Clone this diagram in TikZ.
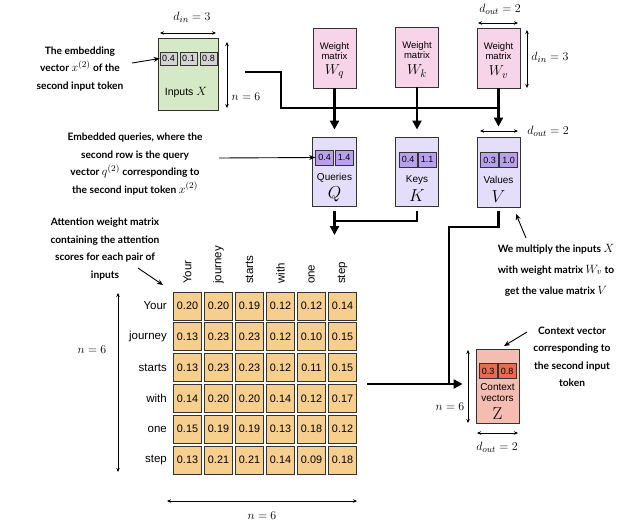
\documentclass[tikz,border=0pt]{standalone}
\usepackage[no-math]{fontspec}
\usetikzlibrary{arrows.meta}
\newfontfamily\lab{Liberation Sans}
\newfontfamily\ann{Lato}
\newcommand\amath[1]{{\fontsize{12.5}{12}\selectfont$#1$}}
\definecolor{inpfill}{HTML}{D6E9C6}
\definecolor{cellgray}{HTML}{D3D3D3}
\definecolor{wfill}{HTML}{F7D4E7}
\definecolor{qfill}{HTML}{E5DEFA}
\definecolor{qcell}{HTML}{B9A0EC}
\definecolor{ctxfill}{HTML}{F5BCB1}
\definecolor{ctxcell}{HTML}{E86A52}
\definecolor{attfill}{HTML}{F6CE8E}
\definecolor{edge}{HTML}{333333}
\begin{document}
\begin{tikzpicture}[x=1pt,y=-1pt,
  bigbox/.style={draw=edge, line width=0.9pt, inner sep=0pt},
  smallcell/.style={draw=edge, line width=0.7pt, inner sep=0pt, minimum width=18pt, minimum height=15pt, font=\lab\fontsize{9}{9}\selectfont},
  attcell/.style={draw=edge, line width=0.8pt, fill=attfill, inner sep=0pt, minimum width=28.5pt, minimum height=28pt, font=\lab\fontsize{10.8}{11}\selectfont},
  lbl/.style={inner sep=0pt, font=\lab\fontsize{10}{11.5}\selectfont, align=center},
  wlbl/.style={inner sep=0pt, font=\lab\fontsize{9.5}{10.5}\selectfont, align=center},
  mathlbl/.style={inner sep=0pt, font=\fontsize{12.5}{13}\selectfont},
  bigletter/.style={inner sep=0pt, font=\fontsize{16}{16}\selectfont},
  annot/.style={inner sep=0pt, align=center, font=\ann\bfseries\fontsize{10.2}{17.5}\selectfont},
  conn/.style={line width=2.2pt, line join=miter},
  flow/.style={conn, -{Triangle[length=9pt,width=9pt]}},
  dim/.style={line width=0.6pt, {Stealth[length=4pt,width=3.5pt]}-{Stealth[length=4pt,width=3.5pt]}},
  pointer/.style={line width=0.9pt, -{Stealth[length=6pt,width=5pt]}}
]
\useasboundingbox (0,0) rectangle (623,528);

% ---------- Inputs ----------
\node[bigbox, fill=inpfill, minimum width=60pt, minimum height=72pt] (inp) at (188,74) {};
\node[smallcell, fill=cellgray, minimum width=17pt, minimum height=13pt] (x1) at (168.5,58.5) {0.4};
\node[smallcell, fill=cellgray, minimum width=17pt, minimum height=13pt] (x2) at (188.5,58.5) {0.1};
\node[smallcell, fill=cellgray, minimum width=17pt, minimum height=13pt] (x3) at (208.5,58.5) {0.8};
\node[lbl, font=\lab\fontsize{10.5}{11}\selectfont] (inplbl) at (186,92) {Inputs \amath{X}};
\coordinate (dinL) at (160,33); \coordinate (dinR) at (216,33);
\draw[dim] (dinL) -- (dinR);
\node[mathlbl] (dinlbl) at (192,17) {$d_{in}=3$};
\coordinate (ninT) at (227,42); \coordinate (ninB) at (227,108);
\draw[dim] (ninT) -- (ninB);
\node[mathlbl] (ninlbl) at (246,97) {$n=6$};

% ---------- Weight matrices ----------
\node[bigbox, fill=wfill, minimum width=43pt, minimum height=60pt] (wq) at (334.5,58) {};
\node[wlbl] at (334.5,51) {Weight\\matrix};
\node[bigletter, font=\fontsize{15}{15}\selectfont] at (334.5,72) {$W_q$};
\node[bigbox, fill=wfill, minimum width=43pt, minimum height=60pt] (wk) at (417,57) {};
\node[wlbl] at (417,50) {Weight\\matrix};
\node[bigletter, font=\fontsize{15}{15}\selectfont] at (417,71) {$W_k$};
\node[bigbox, fill=wfill, minimum width=43pt, minimum height=60pt] (wv) at (498.5,58) {};
\node[wlbl] at (498.5,51) {Weight\\matrix};
\node[bigletter, font=\fontsize{15}{15}\selectfont] at (498.5,72) {$W_v$};
\coordinate (dwL) at (478,23); \coordinate (dwR) at (518,23);
\draw[dim] (dwL) -- (dwR);
\node[mathlbl] (dwlbl) at (500,9) {$d_{out}=2$};
\coordinate (dwT) at (527,30); \coordinate (dwB) at (527,88);
\draw[dim] (dwT) -- (dwB);
\node[mathlbl] (dwrlbl) at (550,57) {$d_{in}=3$};

% ---------- Q, K, V ----------
\node[bigbox, fill=qfill, minimum width=44pt, minimum height=69pt] (q) at (334.5,171.5) {};
\node[smallcell, fill=qcell] (q1) at (324.5,157.5) {0.4};
\node[smallcell, fill=qcell] (q2) at (344,157.5) {1.4};
\node[lbl] at (334.5,178) {Queries};
\node[bigletter] at (334.5,194) {$Q$};

\node[bigbox, fill=qfill, minimum width=43pt, minimum height=69pt] (k) at (417,171.5) {};
\node[smallcell, fill=qcell] (k1) at (408,159.5) {0.4};
\node[smallcell, fill=qcell] (k2) at (427,159.5) {1.1};
\node[lbl] at (417,180) {Keys};
\node[bigletter] at (417,196) {$K$};

\node[bigbox, fill=qfill, minimum width=43pt, minimum height=70pt] (v) at (498.5,172) {};
\node[smallcell, fill=qcell] (v1) at (489.5,160) {0.3};
\node[smallcell, fill=qcell] (v2) at (508.5,160) {1.0};
\node[lbl] at (498.5,180) {Values};
\node[bigletter] at (498.5,197) {$V$};
\coordinate (dvL) at (480,131); \coordinate (dvR) at (518,131);
\draw[dim] (dvL) -- (dvR);
\node[mathlbl] (dvlbl) at (548,131) {$d_{out}=2$};

% ---------- bus from inputs to weights ----------
\coordinate (bstart) at (245,72);
\coordinate (bcorner) at (281,72);
\coordinate (bleft) at (281,108);
\coordinate (bright) at (498.5,108);
\draw[conn] (bstart) -- (bcorner) -- (bleft) -- (bright);
\draw[flow, shorten >=7pt] (wq) -- (q);
\draw[flow, shorten >=7pt] (wk) -- (k);
\draw[flow, shorten >=10pt] (wv) -- (v);

% ---------- Q,K to attention ----------
\coordinate (kq) at (334.5,221);
\coordinate (qk) at (334.5,235);
\draw[conn, shorten <=5pt] (k.south) |- (kq);
\draw[flow, shorten <=5pt] (q.south) -- (qk);

% ---------- attention matrix ----------
\foreach \w [count=\i from 0] in {Your,journey,starts,with,one,step} {
  \node[inner sep=0pt, rotate=90, anchor=west, font=\lab\fontsize{11.5}{12}\selectfont] (c-\i) at ({187.5+31*\i},284) {\w};
  \node[inner sep=0pt, anchor=east, font=\lab\fontsize{11.5}{12}\selectfont] (r-\i) at (167,{306+30.8*\i}) {\w};
}
\foreach \row [count=\j from 0] in {
  {0.20,0.20,0.19,0.12,0.12,0.14},
  {0.13,0.23,0.23,0.12,0.10,0.15},
  {0.13,0.23,0.23,0.12,0.11,0.15},
  {0.14,0.20,0.20,0.14,0.12,0.17},
  {0.15,0.19,0.19,0.13,0.18,0.12},
  {0.13,0.21,0.21,0.14,0.09,0.18}} {
  \foreach \val [count=\i from 0] in \row {
    \node[attcell] (a-\j-\i) at ({187.5+31*\i},{306+30.8*\j}) {\val};
  }
}
\coordinate (anT) at (118,293); \coordinate (anB) at (118,472);
\draw[dim] (anT) -- (anB);
\node[mathlbl] (anlbl) at (92,350) {$n=6$};
\coordinate (abL) at (167,501); \coordinate (abR) at (357,501);
\draw[dim] (abL) -- (abR);
\node[mathlbl] (ablbl) at (262,516) {$n=6$};

% ---------- context vectors ----------
\node[bigbox, fill=ctxfill, minimum width=43pt, minimum height=74pt] (ctx) at (497.5,386) {};
\node[smallcell, fill=ctxcell] (z1) at (488,371) {0.3};
\node[smallcell, fill=ctxcell] (z2) at (507,371) {0.8};
\node[lbl, font=\lab\fontsize{10}{11}\selectfont] at (497.5,393) {Context\\vectors};
\node[bigletter] at (497.5,414) {$\mathrm{Z}$};
\coordinate (cnT) at (468,350); \coordinate (cnB) at (468,423);
\draw[dim] (cnT) -- (cnB);
\node[mathlbl] (cnlbl) at (450,407) {$n=6$};
\coordinate (cdL) at (477,433); \coordinate (cdR) at (518,433);
\draw[dim] (cdL) -- (cdR);
\node[mathlbl] (cdlbl) at (497,447) {$d_{out}=2$};

% ---------- V and attention to context ----------
\coordinate (v1c) at (498.5,227);
\coordinate (v2c) at (449,227);
\coordinate (v3c) at (449,384);
\draw[conn, shorten <=4pt] (v.south) -- (v1c) -- (v2c) -- (v3c);
\coordinate (attout) at (367,384);
\draw[flow, shorten >=13pt] (attout) -- (attout -| ctx.west);

% ---------- annotations ----------
\node[annot] (an1) at (80,69) {The embedding\\vector \amath{x^{(2)}} of the\\second input token};
\coordinate (an1e) at (132,63);
\draw[pointer] (an1e) -- (x1.west);
\node[annot] (an2) at (135,164) {Embedded queries, where the\\second row is the query\\vector \amath{q^{(2)}} corresponding to\\the second input token \amath{x^{(2)}}};
\coordinate (an2e) at (219,158);
\draw[pointer] (an2e) -- (q1.west);
\node[annot] (an3) at (105,249) {Attention weight matrix\\containing the attention\\scores for each pair of\\inputs};
\coordinate (an3s) at (138,268); \coordinate (an3e) at (163,285);
\draw[pointer] (an3s) -- (an3e);
\node[annot, font=\ann\bfseries\fontsize{10.2}{21}\selectfont] (an4) at (556,270) {We multiply the inputs \amath{X}\\with weight matrix \amath{W_v} to\\get the value matrix \amath{V}};
\coordinate (an4s) at (526,238); \coordinate (an4e) at (516,214);
\draw[pointer] (an4s) -- (an4e);
\node[annot] (an5) at (572,357) {Context vector\\corresponding to\\the second input\\token};
\coordinate (an5s) at (527,332); \coordinate (an5e) at (504,346);
\draw[pointer] (an5s) -- (an5e);
\end{tikzpicture}
\end{document}
